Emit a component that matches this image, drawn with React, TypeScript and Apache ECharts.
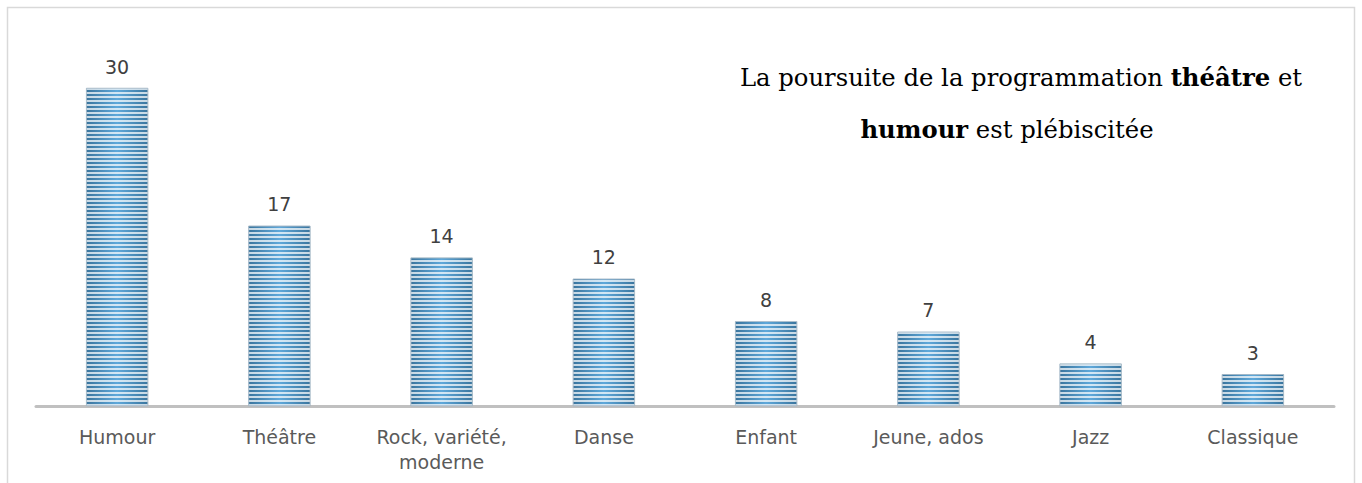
import React, { useEffect, useRef } from "react";
import * as echarts from "echarts";

const categories = ["Humour", "Théâtre", "Rock, variété,\nmoderne", "Danse", "Enfant", "Jeune, ados", "Jazz", "Classique"];
const values = [30, 17, 14, 12, 8, 7, 4, 3];
const titleLine1 = "La poursuite de la programmation {b|théâtre} et";
const titleLine2 = "{b|humour} est plébiscitée";

export default function App() {
  const ref = useRef<HTMLDivElement>(null);
  useEffect(() => {
    if (!ref.current) return;
    const chart = echarts.init(ref.current, null, { renderer: "svg" });
    const titleStyle = (text: string) => ({
      text,
      align: "center",
      verticalAlign: "middle",
      fontFamily: "DejaVu Serif",
      fontSize: 24.3,
      fill: "#000000",
      rich: {
        b: { fontWeight: "bold", fontFamily: "DejaVu Serif", fontSize: 24.3, fill: "#000" },
      },
    });
    chart.setOption({
      animation: false,
      backgroundColor: "#ffffff",
      graphic: [
        {
          type: "rect",
          shape: { x: 7.5, y: 7.5, width: 1347, height: 490 },
          style: { fill: "none", stroke: "#d9d9d9", lineWidth: 1.5 },
          silent: true,
        },
        { type: "text", x: 1021, y: 77, style: titleStyle(titleLine1) },
        { type: "text", x: 1007, y: 129, style: titleStyle(titleLine2) },
      ],
      grid: { left: 36, right: 28, top: 35, bottom: 77, containLabel: false },
      xAxis: {
        type: "category",
        data: categories,
        axisLine: { lineStyle: { color: "#c0c0c0", width: 3 } },
        axisTick: { show: false },
        axisLabel: {
          color: "#5a5a5a",
          fontFamily: "DejaVu Sans",
          fontSize: 19,
          margin: 18,
          lineHeight: 25,
          interval: 0,
        },
      },
      yAxis: {
        type: "value",
        min: 0,
        max: 35,
        show: false,
        splitLine: { show: false },
      },
      series: [
        {
          type: "bar",
          data: values,
          barWidth: 62,
          itemStyle: {
            borderColor: "#9fb3c2",
            borderWidth: 0.6,
            color: {
              type: "linear",
              x: 0, y: 0, x2: 1, y2: 0,
              colorStops: [
                { offset: 0, color: "#3a759e" },
                { offset: 0.5, color: "#5ea8da" },
                { offset: 1, color: "#3a759e" },
              ],
            },
            decal: {
              symbol: "rect",
              dashArrayX: [1, 0],
              dashArrayY: [2, 2],
              rotation: 0,
              color: "rgba(255,255,255,0.72)",
              symbolSize: 1,
            },
          },
          label: {
            show: true,
            position: "top",
            distance: 12,
            color: "#404040",
            fontFamily: "DejaVu Sans",
            fontSize: 19,
          },
        },
      ],
    });
    return () => chart.dispose();
  }, []);
  return <div ref={ref} style={{ position: "fixed", left: 0, top: 0, width: 1362, height: 483 }} />;
}
